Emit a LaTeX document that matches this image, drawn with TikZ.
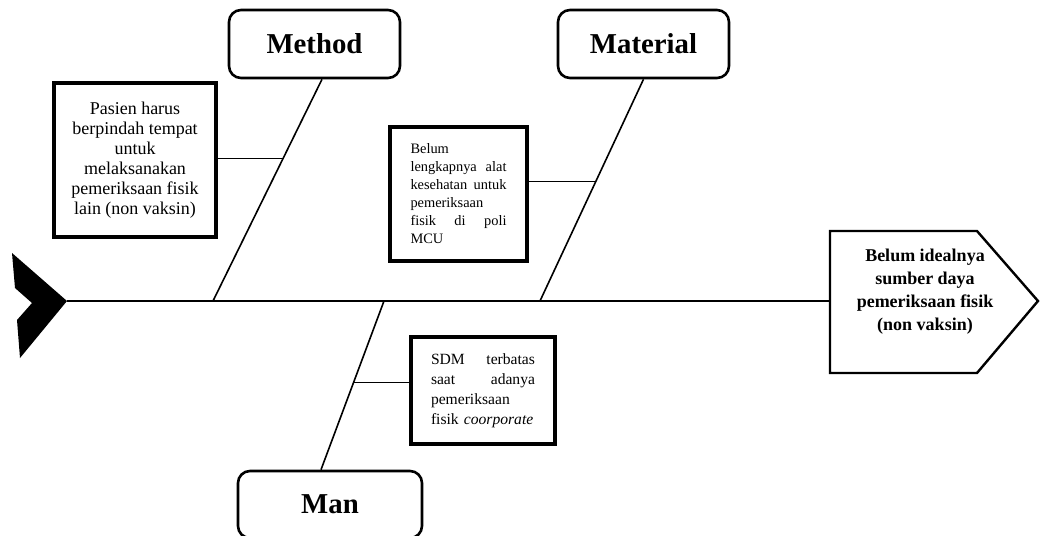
\documentclass[tikz,border=0pt]{standalone}
\usepackage{fontspec}
\setmainfont{Liberation Serif}
\usetikzlibrary{positioning,calc}

\newcommand{\nohyph}{\hyphenpenalty=10000 \exhyphenpenalty=10000\relax}

\tikzset{
  catbox/.style={draw, line width=1.3pt, rounded corners=6pt, minimum width=85.5pt, minimum height=34pt, font=\fontsize{14.4}{16}\selectfont\bfseries},
  causebox/.style={draw, line width=1.6pt, inner sep=0pt},
  bone/.style={line width=0.8pt},
  rib/.style={line width=0.5pt},
}

\begin{document}
\begin{tikzpicture}[x=0.5pt, y=-0.5pt]
    \useasboundingbox (0,0) rectangle (1040,536);
    \clip (0,0) rectangle (1040,536);

    % tail and spine
    \fill (12,253) -- (67,301) -- (20,358) -- (17,320) -- (32,303) -- (15,288) -- cycle;
    \coordinate (tail) at (67,301);
    \coordinate (headleft) at (830,301);
    \draw[line width=1pt] (tail) -- (headleft);

    % head
    \draw[line width=1.2pt] (830,231) -- (977,231) -- (1038,301) -- (977,373) -- (830,373) -- cycle;
    \node[align=center, font=\fontsize{9}{11.5}\selectfont\bfseries] (effect) at (925,292) {Belum idealnya\\ sumber daya\\ pemeriksaan fisik\\ (non vaksin)};

    % categories
    \node[catbox] (method) at (314.5,44) {Method};
    \node[catbox] (material) at (643.5,44) {Material};
    \node[catbox, minimum width=92pt, minimum height=33.5pt] (man) at (330,504.5) {Man};

    \coordinate (methodtop) at ([xshift=3.75pt]method.south);
    \coordinate (methodroot) at (213,301);
    \coordinate (materialroot) at (540,301);
    \coordinate (manroot) at (384,301);
    \coordinate (manend) at ([xshift=-4.5pt]man.north);

    \draw[bone] (methodtop) -- (methodroot);
    \draw[bone] (material.south) -- (materialroot);
    \draw[bone] (manroot) -- (manend);

    % causes
    \node[causebox, minimum width=81pt, minimum height=77pt, align=center, font=\fontsize{9}{10}\selectfont] (methodcause) at (135,160) {Pasien harus\\ berpindah tempat\\ untuk\\ melaksanakan\\ pemeriksaan fisik\\ lain (non vaksin)};
    \node[causebox, minimum width=68.5pt, minimum height=67pt, text width=48pt, align=left, font=\fontsize{7.2}{9}\selectfont\nohyph] (materialcause) at (458.5,194) {Belum\\ lengkapnya \hfill alat\\ kesehatan \hfill untuk\\ pemeriksaan\\ fisik \hfill di \hfill poli\\ MCU};
    \node[causebox, minimum width=72pt, minimum height=53.5pt, text width=52pt, align=left, font=\fontsize{7.8}{10}\selectfont\nohyph] (mancause) at (483,390.5) {SDM \hfill terbatas\\ saat \hfill adanya\\ pemeriksaan\\ fisik \textit{coorporate}};

    \coordinate (methodrib) at ($(methodtop)!0.359!(methodroot)$);
    \coordinate (materialrib) at ($(material.south)!0.462!(materialroot)$);
    \coordinate (manrib) at ($(manroot)!0.482!(manend)$);

    \draw[rib] (methodrib) -- (methodrib -| methodcause.east);
    \draw[rib] (materialrib) -- (materialrib -| materialcause.east);
    \draw[rib] (manrib) -- (manrib -| mancause.west);
\end{tikzpicture}
\end{document}
